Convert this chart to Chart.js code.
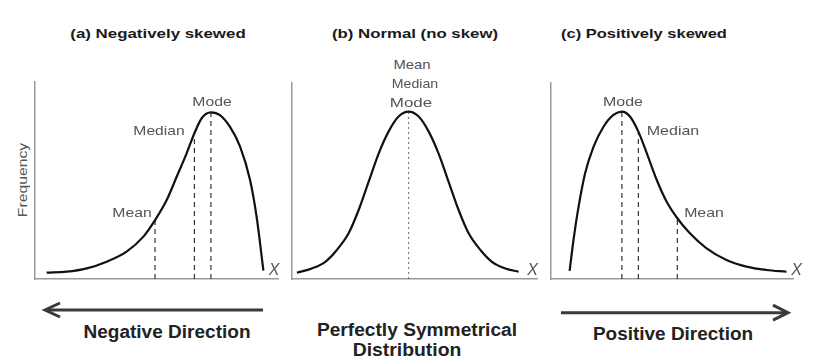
<!DOCTYPE html>
<html><head><meta charset="utf-8">
<script src="https://cdn.jsdelivr.net/npm/chart.js@4.4.1/dist/chart.umd.min.js"></script>
<style>
html,body{margin:0;padding:0;background:#fff;}
#wrap{position:relative;width:820px;height:362px;overflow:hidden;font-family:"Liberation Sans",Arial,sans-serif;background:#fff;}
.t{position:absolute;white-space:nowrap;line-height:1;transform-origin:center center;}
.ttl{font-weight:bold;font-size:13.5px;color:#1a1a1a;}
.lbl{font-size:13px;color:#555;}
.xl{font-size:16px;font-style:italic;color:#555;}
.bt{font-weight:bold;font-size:18px;color:#222;}
</style></head><body><div id="wrap">
<svg width="820" height="362" style="position:absolute;left:0;top:0">
  <line x1="46" y1="310" x2="263" y2="310" stroke="#3a3a3a" stroke-width="3"/>
  <polyline points="60,303 45,310 60,317" fill="none" stroke="#3a3a3a" stroke-width="3"/>
  <line x1="561" y1="312.7" x2="786" y2="312.7" stroke="#3a3a3a" stroke-width="3"/>
  <polyline points="773,305.2 788,312.7 773,320.2" fill="none" stroke="#3a3a3a" stroke-width="3"/>
</svg>
</div>
<script>
// ---- data (x in 0..10, frequency in 0..100) ----
const markerNames = ['Mean', 'Median', 'Mode'];

const negX = [0.48,1.30,2.13,2.95,3.77,4.46,4.94,5.42,5.83,6.24,6.56,6.86,7.24,7.61,8.02,8.44,8.85,9.12,9.40];
const negY = [3.2,3.7,5.4,8.8,13.9,21.5,29.9,40.1,51.9,63.8,74.0,81.6,84.6,83.2,77.3,67.2,50.3,31.6,4.2];
const negMarkX = [4.94, 6.56, 7.24];
const negMarkY = [29.9, 74.0, 84.6];

const normX = [0.20,0.81,1.36,1.83,2.31,2.72,3.13,3.54,3.94,4.35,4.76,5.17,5.58,5.98,6.39,6.80,7.21,7.69,8.16,8.71,9.25];
const normY = [3.2,5.4,8.8,14.8,23.3,35.2,49.7,64.1,75.2,82.9,85.4,82.9,75.2,64.1,49.7,35.2,23.3,14.8,8.8,5.4,3.7];
const normMarkX = [4.76];
const normMarkY = [85.4];

const posX = [0.77,0.93,1.14,1.41,1.76,2.17,2.58,2.93,3.27,3.61,3.96,4.37,4.78,5.22,5.74,6.43,7.25,8.08,8.90,9.73];
const posY = [4.2,19.9,36.9,53.9,67.5,77.7,83.7,85.4,82.8,75.2,64.1,50.5,39.4,31.0,23.3,15.6,9.7,6.3,4.6,3.7];
const posMarkX = [5.22, 3.61, 2.93];
const posMarkY = [31.0, 75.2, 85.4];

const panelTitles = ['(a) Negatively skewed', '(b) Normal (no skew)', '(c) Positively skewed'];
const yAxisLabel = 'Frequency';
const xAxisLabel = 'X';
const directionLabels = ['Negative Direction', 'Perfectly Symmetrical', 'Distribution', 'Positive Direction'];

// ---- layout ----
const wrap = document.getElementById('wrap');
function panel(box, xs, ys, mx, my, dash, dashColor, dashWidth) {
  const P = 4;
  const w = box.r - box.l, h = box.b - box.t;
  const c = document.createElement('canvas');
  c.width = w + 2 * P; c.height = h + 2 * P;
  c.style.cssText = `position:absolute;left:${box.l - P}px;top:${box.t - P}px;width:${w + 2 * P}px;height:${h + 2 * P}px;`;
  wrap.appendChild(c);
  const datasets = [{
    data: xs.map((x, i) => ({x: x, y: ys[i]})),
    borderColor: '#111', borderWidth: 2.2, pointRadius: 0,
    cubicInterpolationMode: 'monotone', fill: false
  }];
  mx.forEach((x, i) => datasets.push({
    data: [{x: x, y: 0}, {x: x, y: my[i]}],
    borderColor: dashColor, borderWidth: dashWidth, borderDash: dash, pointRadius: 0, fill: false
  }));
  const axis = (min, max) => ({
    type: 'linear', min: min, max: max,
    grid: {display: false, drawTicks: false},
    ticks: {display: false},
    border: {display: true, color: '#999', width: 1.5}
  });
  new Chart(c, {
    type: 'line',
    data: {datasets: datasets},
    options: {
      responsive: false, animation: false, events: [], devicePixelRatio: 1,
      layout: {padding: P},
      plugins: {legend: {display: false}, tooltip: {enabled: false}},
      scales: {x: axis(0, 10), y: axis(0, 100)}
    }
  });
}
panel({l: 35, t: 82, r: 278, b: 279}, negX, negY, negMarkX, negMarkY, [5, 4], '#333', 1.2);
panel({l: 292, t: 83, r: 537, b: 279}, normX, normY, normMarkX, normMarkY, [2, 3], '#777', 1.1);
panel({l: 551, t: 83, r: 793, b: 279}, posX, posY, posMarkX, posMarkY, [5, 4], '#333', 1.2);

// ---- texts: [text, centerX, centerY, targetWidth, class, rotate]
const texts = [
  [panelTitles[0], 157.5, 33.5, 175, 'ttl'],
  [panelTitles[1], 415, 33.5, 166.7, 'ttl'],
  [panelTitles[2], 643.7, 33.5, 166, 'ttl'],
  [yAxisLabel, 21.7, 180, 74, 'lbl', -90],
  [markerNames[2], 211.7, 100.7, 40, 'lbl'],
  [markerNames[1], 159.2, 130, 51.7, 'lbl'],
  [markerNames[0], 131.7, 211.7, 40, 'lbl'],
  [markerNames[0], 411.7, 64.3, 37.7, 'lbl'],
  [markerNames[1], 415, 82.7, 46.7, 'lbl'],
  [markerNames[2], 410.8, 101.7, 43, 'lbl'],
  [markerNames[2], 623, 100.7, 40.6, 'lbl'],
  [markerNames[1], 672.7, 130, 53, 'lbl'],
  [markerNames[0], 704, 211.7, 40.3, 'lbl'],
  [xAxisLabel, 274, 270, 0, 'xl'],
  [xAxisLabel, 532.7, 270, 0, 'xl'],
  [xAxisLabel, 796.7, 270, 0, 'xl'],
  [directionLabels[0], 166.7, 331.7, 167, 'bt'],
  [directionLabels[1], 416.7, 330, 200, 'bt'],
  [directionLabels[2], 407, 350, 108.7, 'bt'],
  [directionLabels[3], 673.3, 334, 160, 'bt']
];
texts.forEach(([s, cx, cy, tw, cls, rot]) => {
  const d = document.createElement('div');
  d.className = 't ' + cls;
  d.textContent = s;
  d.style.left = cx + 'px';
  d.style.top = cy + 'px';
  wrap.appendChild(d);
  const nat = d.offsetWidth;
  const k = tw ? tw / nat : 1;
  d.style.transform = `translate(-50%,-50%)${rot ? ' rotate(' + rot + 'deg)' : ''} scaleX(${k.toFixed(3)})`;
});
</script>
</body></html>
